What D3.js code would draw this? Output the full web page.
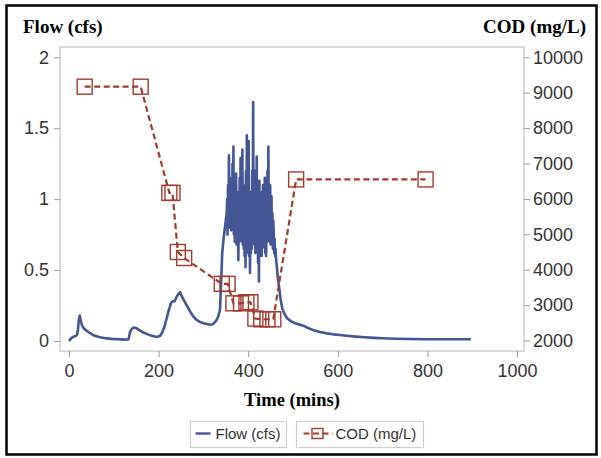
<!DOCTYPE html>
<html>
<head>
<meta charset="utf-8">
<script src="https://cdn.jsdelivr.net/npm/d3@7"></script>
<style>
  html, body { margin: 0; padding: 0; background: #fff; }
  svg { display: block; }
</style>
</head>
<body>
<div id="chart"></div>
<script>
// Flow hydrograph (cfs) against time (mins); one-minute readings through the surge
const flowTime = [
  0, 5, 10, 15, 18, 20, 22, 24, 26, 29, 33, 38, 45, 55, 65, 80, 95, 110, 125, 133,
  136, 140, 145, 150, 158, 167, 177, 187, 196, 203, 208, 213, 218, 223, 228, 232, 236, 240, 244, 248,
  251, 256, 263, 270, 277, 284, 292, 300, 308, 316, 322, 328, 333, 337, 340, 342, 345, 348, 350,
  352, 353, 354, 355, 356, 357, 358, 359, 360, 361, 362, 363, 364, 365, 366, 367, 368, 369, 370, 371,
  372, 373, 374, 375, 376, 377, 378, 379, 380, 381, 382, 383, 384, 385, 386, 387, 388, 389, 390, 391,
  392, 393, 394, 395, 396, 397, 398, 399, 400, 401, 402, 403, 404, 405, 406, 407, 408, 409, 410, 411,
  412, 413, 414, 415, 416, 417, 418, 419, 420, 421, 422, 423, 424, 425, 426, 427, 428, 429, 430, 431,
  432, 433, 434, 435, 436, 437, 438, 439, 440, 441, 442, 443, 444, 445, 446, 447, 448, 449, 450, 451,
  452, 453, 454, 455, 456, 457, 458, 459, 460, 461, 462, 463, 464,
  466, 469, 472, 476, 481, 487, 495, 505, 515, 525, 535, 545, 560, 575, 590, 605, 620, 640, 660, 680,
  700, 730, 760, 800, 850, 897
];
const flowValue = [
  0.00, 0.02, 0.03, 0.035, 0.045, 0.08, 0.15, 0.18, 0.15, 0.11, 0.09, 0.075, 0.06, 0.04, 0.03, 0.02, 0.015, 0.012, 0.01, 0.012,
  0.06, 0.085, 0.095, 0.09, 0.075, 0.058, 0.045, 0.035, 0.028, 0.035, 0.06, 0.10, 0.16, 0.22, 0.27, 0.28, 0.28, 0.31, 0.33, 0.345,
  0.32, 0.29, 0.25, 0.21, 0.175, 0.15, 0.135, 0.125, 0.12, 0.115, 0.12, 0.14, 0.17, 0.22, 0.45, 0.62, 0.72, 0.80, 0.85,
  0.90, 1.00, 0.75, 1.10, 0.80, 1.31, 0.85, 1.15, 0.80, 1.05, 0.78, 0.95, 0.80, 1.25, 0.85, 1.37, 0.75, 1.10, 0.70, 1.05,
  0.72, 1.18, 0.68, 1.00, 0.70, 0.95, 0.57, 1.05, 0.70, 1.15, 0.75, 1.29, 0.72, 1.05, 0.70, 1.35, 0.68, 1.10, 0.65, 1.00,
  0.60, 0.95, 0.52, 1.20, 0.70, 1.45, 0.68, 1.15, 0.62, 1.41, 0.60, 1.00, 0.48, 0.95, 0.62, 1.05, 0.65, 1.20, 0.70, 1.685,
  0.75, 1.10, 0.68, 1.20, 0.62, 1.00, 0.70, 1.30, 0.75, 1.05, 0.55, 0.90, 0.42, 1.13, 0.65, 1.00, 0.70, 0.95, 0.60, 1.05,
  0.68, 1.10, 0.72, 1.00, 0.66, 1.15, 0.62, 1.05, 0.60, 0.95, 0.70, 1.20, 0.72, 1.37, 0.75, 1.05, 0.70, 1.10, 0.68, 0.95,
  1.02, 0.70, 0.90, 0.65, 0.85, 0.76, 0.62, 0.72, 0.60, 0.65, 0.58, 0.55, 0.52,
  0.45, 0.38, 0.30, 0.23, 0.19, 0.16, 0.14, 0.125, 0.115, 0.105, 0.09, 0.077, 0.064, 0.054, 0.047, 0.042, 0.037, 0.031, 0.026, 0.022,
  0.019, 0.016, 0.014, 0.012, 0.012, 0.012
];

// COD grab samples (mg/L)
const codTime = [35, 160, 224, 231, 243, 257, 341, 354, 367, 384, 396, 405, 416, 429, 443, 456, 507, 796];
const codValue = [9170, 9170, 6170, 6170, 4500, 4330, 3600, 3600, 3050, 3050, 3080, 3080, 2620, 2600, 2600, 2600, 6550, 6550];

const xTicks = [0, 200, 400, 600, 800, 1000];
const flowTicks = [0, 0.5, 1, 1.5, 2];
const codTicks = [2000, 3000, 4000, 5000, 6000, 7000, 8000, 9000, 10000];

const W = 601, H = 458;
const frame = { left: 60, top: 47, right: 524, bottom: 351 };
const flowColor = "#445694";
const codColor = "#A23A2E";
const gridGray = "#cfcfcf";
const tickGray = "#9a9a9a";
const textGray = "#333333";
const sansFont = "'Liberation Sans', Arial, sans-serif";
const serifFont = "'Liberation Serif', 'Times New Roman', serif";

const svg = d3.select("#chart").append("svg")
  .attr("width", W).attr("height", H);

// outer border
svg.append("rect")
  .attr("x", 6.5).attr("y", 5.5).attr("width", 590).attr("height", 449)
  .attr("fill", "#fff").attr("stroke", "#000").attr("stroke-width", 2.5);

const x = d3.scaleLinear().domain([0, 1000]).range([69, 517]);
const yFlow = d3.scaleLinear().domain([0, 2]).range([341, 57.3]);
const yCod = d3.scaleLinear().domain([2000, 10000]).range([340.5, 57.3]);

// plot wall
svg.append("rect")
  .attr("x", frame.left).attr("y", frame.top)
  .attr("width", frame.right - frame.left).attr("height", frame.bottom - frame.top)
  .attr("fill", "#fff").attr("stroke", gridGray).attr("stroke-width", 1.5);

function styleAxis(g) {
  g.select(".domain").remove();
  g.selectAll(".tick line").attr("stroke", tickGray).attr("stroke-width", 1);
  g.selectAll(".tick text").attr("fill", textGray)
    .style("font-family", sansFont).style("font-size", "18px");
}

svg.append("g")
  .attr("transform", `translate(0,${frame.bottom})`)
  .call(d3.axisBottom(x).tickValues(xTicks).tickSize(6).tickPadding(7).tickFormat(d3.format("d")))
  .call(styleAxis);

svg.append("g")
  .attr("transform", `translate(${frame.left},0)`)
  .call(d3.axisLeft(yFlow).tickValues(flowTicks).tickSize(6).tickPadding(5).tickFormat(d => String(d)))
  .call(styleAxis);

svg.append("g")
  .attr("transform", `translate(${frame.right},0)`)
  .call(d3.axisRight(yCod).tickValues(codTicks).tickSize(6).tickPadding(3).tickFormat(d3.format("d")))
  .call(styleAxis);

// axis titles
svg.append("text").attr("x", 23).attr("y", 33)
  .style("font-family", serifFont).style("font-weight", "bold").style("font-size", "19px")
  .text("Flow (cfs)");
svg.append("text").attr("x", 586).attr("y", 33).attr("text-anchor", "end")
  .style("font-family", serifFont).style("font-weight", "bold").style("font-size", "19px")
  .text("COD (mg/L)");
svg.append("text").attr("x", 292).attr("y", 406).attr("text-anchor", "middle")
  .style("font-family", serifFont).style("font-weight", "bold").style("font-size", "18.5px")
  .text("Time (mins)");

// flow series
const flowData = flowTime.map((t, i) => ({ t, q: flowValue[i] }));
svg.append("path")
  .datum(flowData)
  .attr("fill", "none").attr("stroke", flowColor).attr("stroke-width", 2.6)
  .attr("stroke-linejoin", "round")
  .attr("d", d3.line().x(d => x(d.t)).y(d => yFlow(d.q)));

// COD series
const codData = codTime.map((t, i) => ({ t, c: codValue[i] }));
svg.append("path")
  .datum(codData)
  .attr("fill", "none").attr("stroke", codColor).attr("stroke-width", 2.2)
  .attr("stroke-dasharray", "6,3.5")
  .attr("d", d3.line().x(d => x(d.t)).y(d => yCod(d.c)));

const markSize = 15;
svg.append("g").selectAll("rect")
  .data(codData).join("rect")
  .attr("x", d => x(d.t) - markSize / 2)
  .attr("y", d => yCod(d.c) - markSize / 2)
  .attr("width", markSize).attr("height", markSize)
  .attr("fill", "none").attr("stroke", codColor).attr("stroke-width", 1.4);

// legend
const legend = svg.append("g");
const items = [
  { label: "Flow (cfs)", x0: 190.5, w: 96, kind: "flow" },
  { label: "COD (mg/L)", x0: 296.5, w: 127, kind: "cod" }
];
items.forEach(it => {
  const g = legend.append("g").attr("transform", `translate(${it.x0},421.5)`);
  g.append("rect").attr("width", it.w).attr("height", 26)
    .attr("fill", "#fff").attr("stroke", gridGray).attr("stroke-width", 1.2);
  if (it.kind === "flow") {
    g.append("line").attr("x1", 5).attr("x2", 20).attr("y1", 12).attr("y2", 12)
      .attr("stroke", flowColor).attr("stroke-width", 2.4);
    g.append("text").attr("x", 25).attr("y", 17.5)
      .attr("fill", textGray).style("font-family", sansFont).style("font-size", "15px")
      .text(it.label);
  } else {
    g.append("line").attr("x1", 7).attr("x2", 36).attr("y1", 12).attr("y2", 12)
      .attr("stroke", codColor).attr("stroke-width", 2).attr("stroke-dasharray", "6,3.5");
    g.append("rect").attr("x", 15.5).attr("y", 7).attr("width", 11).attr("height", 10)
      .attr("fill", "none").attr("stroke", codColor).attr("stroke-width", 1.4);
    g.append("text").attr("x", 39).attr("y", 17.5)
      .attr("fill", textGray).style("font-family", sansFont).style("font-size", "15px")
      .text(it.label);
  }
});
</script>
</body>
</html>
